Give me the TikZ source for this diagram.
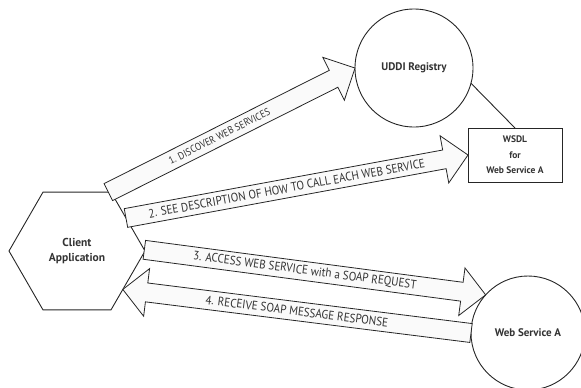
\documentclass[tikz,border=0pt]{standalone}
\usepackage{fontspec}
\setmainfont{PT Sans}
\newfontfamily\arrowfont[FakeStretch=0.9]{PT Sans}
\usetikzlibrary{shapes.geometric,calc}

% block arrow: [text options]{name}{tail}{tip}{text}
\newcommand{\blockarrow}[5][pos=0.45]{%
  \coordinate (#2-t) at (#3);
  \coordinate (#2-h) at (#4);
  \coordinate (#2-b) at ($(#2-h)!24pt!(#2-t)$);
  \draw[flowarrow] ($(#2-t)!9.5pt!90:(#2-h)$) -- ($(#2-b)!9.5pt!90:(#2-h)$)
    -- ($(#2-b)!24pt!90:(#2-h)$) -- (#2-h) -- ($(#2-b)!24pt!-90:(#2-h)$)
    -- ($(#2-b)!9.5pt!-90:(#2-h)$) -- ($(#2-t)!9.5pt!-90:(#2-h)$) -- cycle;
  \path (#2-t) -- (#2-h) node[arrowtext, sloped, #1] {#5};
}

\begin{document}
\begin{tikzpicture}[x=1pt,y=-1pt,
  every node/.style={inner sep=0pt, outer sep=0pt, text=black!80},
  client/.style={regular polygon, regular polygon sides=6, minimum size=136pt,
    draw=black!85, line width=0.9pt, align=center,
    font=\bfseries\fontsize{11.5}{14.5}\selectfont},
  server/.style={circle, draw=black!85, line width=0.9pt, align=center,
    font=\bfseries\fontsize{11}{14}\selectfont},
  docbox/.style={rectangle, draw=black!85, line width=0.9pt, align=center,
    minimum width=94pt, minimum height=54pt,
    font=\bfseries\fontsize{9.5}{15.5}\selectfont},
  flowarrow/.style={draw=black!85, fill=black!2, line width=0.8pt, line join=miter},
  arrowtext/.style={font=\arrowfont\fontsize{12.3}{13}\selectfont},
  link/.style={draw=black!85, line width=0.9pt}]
\useasboundingbox (0,0) rectangle (581,388);

\node[client] (app) at (77,251) {Client\\Application};
\node[server, minimum size=118pt] (uddi) at (414,68) {UDDI Registry};
\node[docbox] (wsdl) at (515,155) {WSDL\\for\\Web Service A};
\node[server, minimum size=114pt] (wsa) at (528,333) {Web Service A};
\draw[link] (uddi.-15) -- (wsdl.north);

\blockarrow[pos=0.45, font=\arrowfont\fontsize{10.3}{11}\selectfont]{discover}{app.62}{uddi.west}{1. DISCOVER WEB SERVICES}
\blockarrow[pos=0.47]{describe}{app.34}{wsdl.west}{2. SEE DESCRIPTION OF HOW TO CALL EACH WEB SERVICE}
\blockarrow[pos=0.47]{access}{app.1}{wsa.138}{3. ACCESS WEB SERVICE with a SOAP REQUEST}
\blockarrow[pos=0.5]{receive}{wsa.west}{app.-40}{4. RECEIVE SOAP MESSAGE RESPONSE}
\end{tikzpicture}
\end{document}
